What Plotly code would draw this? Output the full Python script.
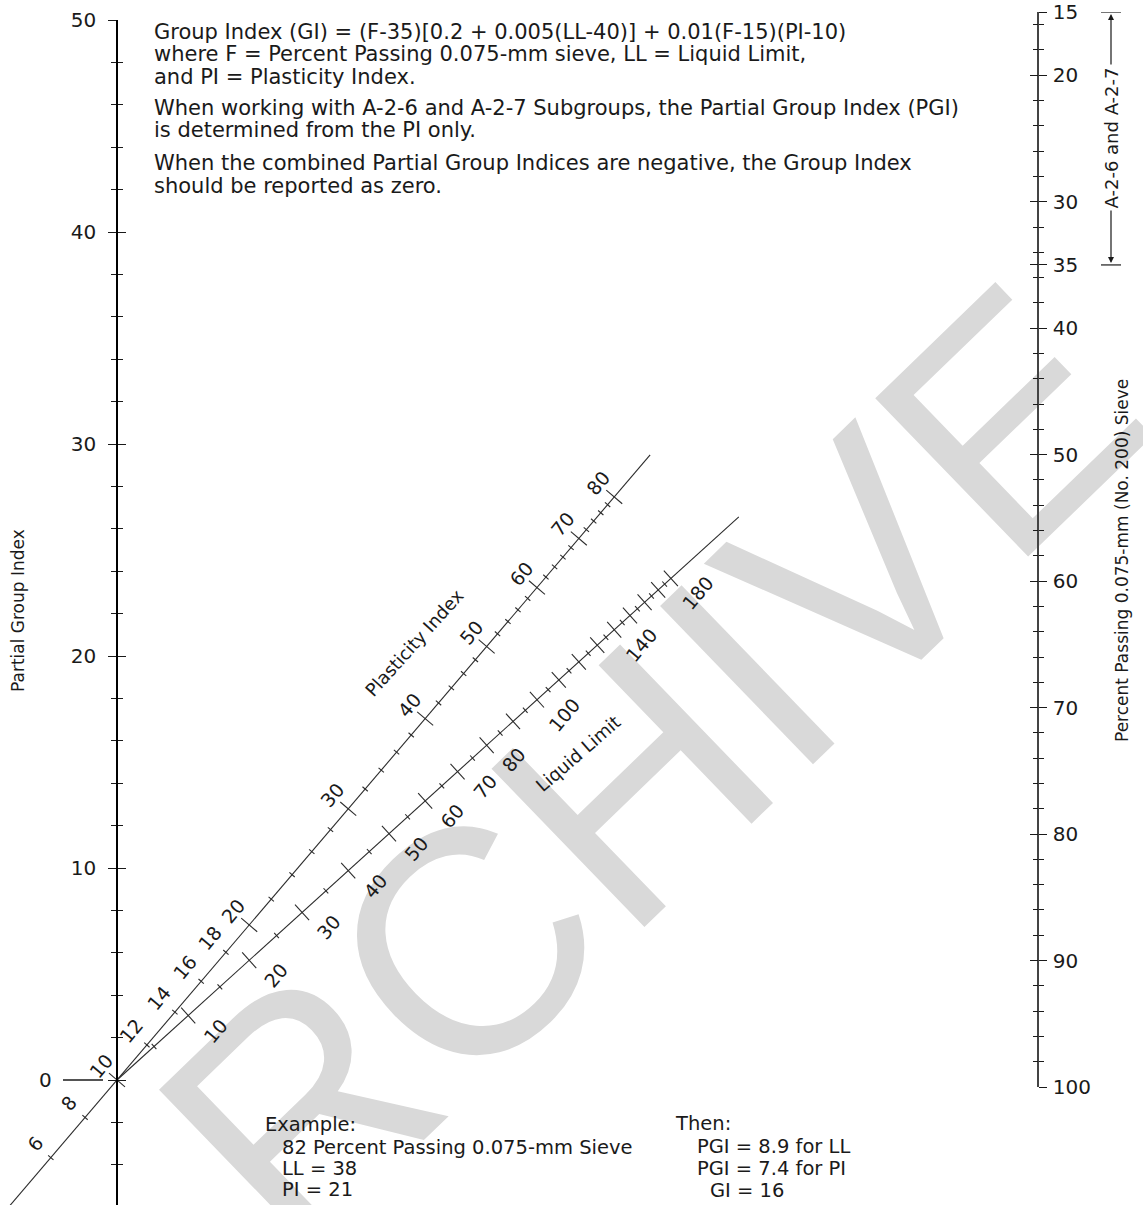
import math
import plotly.graph_objects as go

# ---------------- data ----------------
PGI_TICKS = [0, 10, 20, 30, 40, 50]
PGI_TICK_TEXT = ["", "10", "20", "30", "40", "50"]
PGI_MINOR = [-4, -2, 2, 4, 6, 8, 12, 14, 16, 18, 22, 24, 26, 28, 32, 34, 36, 38, 42, 44, 46, 48]
PGI_ZERO_LABEL = "0"

F_TICKS = [15, 20, 30, 35, 40, 50, 60, 70, 80, 90, 100]
F_MINOR = [16, 18, 22, 24, 26, 28, 32, 34, 36, 38, 42, 44, 46, 48, 52, 54, 56, 58,
           62, 64, 66, 68, 72, 74, 76, 78, 82, 84, 86, 88, 92, 94, 96, 98]
A2_RANGE = [15, 35]
A2_TEXT = "A-2-6 and A-2-7"

PI_MAJOR = [10, 20, 30, 40, 50, 60, 70, 80]
PI_MINOR = [6, 8, 12, 14, 16, 18, 22, 24, 26, 28, 32, 34, 36, 38, 42, 44, 46, 48,
            52, 54, 56, 58, 62, 64, 66, 68, 72, 74, 76, 78]
PI_LABELS = [6, 8, 10, 12, 14, 16, 18, 20, 30, 40, 50, 60, 70, 80]
PI_EXTENT = [3, 92]

LL_MAJOR = [10, 20, 30, 40, 50, 60, 70, 80, 90, 100, 110, 120, 130, 140, 150, 160, 170, 180]
LL_MINOR = [5, 15, 25, 35, 45, 55, 65, 75, 85, 95, 105, 115, 125, 135, 145, 155, 165, 175]
LL_LABELS = [10, 20, 30, 40, 50, 60, 70, 80, 100, 140, 180]
LL_EXTENT = [0, 248]

NOTES = [
    "Group Index (GI) = (F-35)[0.2 + 0.005(LL-40)] + 0.01(F-15)(PI-10)",
    "where F = Percent Passing 0.075-mm sieve, LL = Liquid Limit,",
    "and PI = Plasticity Index.",
    "When working with A-2-6 and A-2-7 Subgroups, the Partial Group Index (PGI)",
    "is determined from the PI only.",
    "When the combined Partial Group Indices are negative, the Group Index",
    "should be reported as zero.",
]
EXAMPLE = ["Example:", "82 Percent Passing 0.075-mm Sieve", "LL = 38", "PI = 21"]
THEN = ["Then:", "PGI = 8.9 for LL", "PGI = 7.4 for PI", "GI = 16"]

LEFT_TITLE = "Partial Group Index"
RIGHT_TITLE = "Percent Passing 0.075-mm (No. 200) Sieve"
PI_TITLE = "Plasticity Index"
LL_TITLE = "Liquid Limit"
WATERMARK = "RCHIVE"

# ---------------- layout geometry (pixels) ----------------
W, H = 1143, 1205
LEFT_PX, RIGHT_PX = 117, 1038
PGI_TOP_PX, PGI_ZERO_PX = 20, 1080
F_TOP_PX, F_BOT_PX = 12, 1087
PI_POLE_PX, LL_POLE_PX = 0, 246   # where the scale lines are aimed on the right side

S_G = (PGI_ZERO_PX - PGI_TOP_PX) / 50.0
PGI_BOTTOM = -(H - PGI_ZERO_PX) / S_G
D_TOP = 1 - PGI_TOP_PX / H
S_F = (F_BOT_PX - F_TOP_PX) / (max(F_TICKS) - min(F_TICKS))
B = S_F / S_G
WIDTH_PX = RIGHT_PX - LEFT_PX
X_RANGE = [-LEFT_PX / WIDTH_PX, (W - LEFT_PX) / WIDTH_PX]
Y_PI_POLE = (PGI_ZERO_PX - PI_POLE_PX) / S_G
Y_LL_POLE = (PGI_ZERO_PX - LL_POLE_PX) / S_G
ANG_PI = math.degrees(math.atan2(Y_PI_POLE * S_G, WIDTH_PX))
ANG_LL = math.degrees(math.atan2(Y_LL_POLE * S_G, WIDTH_PX))


def pos_pi(v):
    # PGI = 0.01 (F-15)(PI-10)
    r = 0.01 * (v - 10) / B
    t = r / (1 + r)
    return t, t * Y_PI_POLE


def pos_ll(v):
    # PGI = (F-35)[0.2 + 0.005(LL-40)] = 0.005 LL (F-35)
    r = 0.005 * v / B
    t = r / (1 + r)
    return t, t * Y_LL_POLE


def pts(fn, vals):
    p = [fn(v) for v in vals]
    return [a for a, _ in p], [b for _, b in p]


FONT = "DejaVu Sans"
INK = "#1a1a1a"
LINE = "#2b2b2b"

fig = go.Figure()

# scale lines
for fn, ext in ((pos_pi, PI_EXTENT), (pos_ll, LL_EXTENT)):
    xs, ys = pts(fn, ext)
    fig.add_trace(go.Scatter(x=xs, y=ys, mode="lines", line=dict(color=LINE, width=1.1),
                             hoverinfo="skip", showlegend=False))

# tick marks on scale lines
for fn, vals, size, ang in ((pos_pi, PI_MAJOR, 15, ANG_PI), (pos_pi, PI_MINOR, 5, ANG_PI),
                            (pos_ll, LL_MAJOR, 15, ANG_LL), (pos_ll, LL_MINOR, 5, ANG_LL)):
    xs, ys = pts(fn, vals)
    fig.add_trace(go.Scatter(x=xs, y=ys, mode="markers",
                             marker=dict(symbol="line-ns", size=size, angle=-ang,
                                         line=dict(color=LINE, width=1.1)),
                             hoverinfo="skip", showlegend=False))

# dummy traces so the extra axes are drawn
for ya in ("y2", "y3", "y4"):
    fig.add_trace(go.Scatter(x=[None], y=[None], yaxis=ya, hoverinfo="skip", showlegend=False))

ann = []
LBL = dict(family=FONT, size=19, color=INK)
for v in PI_LABELS:
    x, y = pos_pi(v)
    ann.append(dict(x=x, y=y, xref="x", yref="y", text=str(v), showarrow=False,
                    xshift=-16, yshift=14, textangle=-50, font=LBL))
for v in LL_LABELS:
    x, y = pos_ll(v)
    ann.append(dict(x=x, y=y, xref="x", yref="y", text=str(v), showarrow=False,
                    xshift=27, yshift=-15, textangle=-50, font=LBL))
x, y = pos_pi(45)
ann.append(dict(x=x, y=y, xref="x", yref="y", text=PI_TITLE, showarrow=False,
                xshift=-43, yshift=38, textangle=-48, font=dict(family=FONT, size=18, color=INK)))
x, y = pos_ll(98)
ann.append(dict(x=x, y=y, xref="x", yref="y", text=LL_TITLE, showarrow=False,
                xshift=46, yshift=-50, textangle=-41, font=dict(family=FONT, size=18, color=INK)))

# zero label of the PGI scale
ann.append(dict(x=0, y=0, xref="x", yref="y", text=PGI_ZERO_LABEL, showarrow=False,
                xshift=-72, font=dict(family=FONT, size=20, color=INK)))

# notes
NOTE_Y = [32, 54, 77, 108, 130, 163, 186]
for txt, yy in zip(NOTES, NOTE_Y):
    ann.append(dict(x=152 / W, y=1 - yy / H, xref="paper", yref="paper", text=txt,
                    showarrow=False, xanchor="left", yanchor="middle",
                    font=dict(family=FONT, size=21, color=INK)))

# example
EX_POS = [(263, 1124), (280, 1147), (280, 1168), (280, 1189)]
TH_POS = [(673, 1123), (695, 1146), (695, 1168), (708, 1190)]
for lines, poss in ((EXAMPLE, EX_POS), (THEN, TH_POS)):
    for txt, (xx, yy) in zip(lines, poss):
        ann.append(dict(x=xx / W, y=1 - yy / H, xref="paper", yref="paper", text=txt,
                        showarrow=False, xanchor="left", yanchor="middle",
                        font=dict(family=FONT, size=19.5, color=INK)))

# axis titles
ann.append(dict(x=18 / W, y=1 - 611 / H, xref="paper", yref="paper", text=LEFT_TITLE,
                xanchor="center", yanchor="middle",
                showarrow=False, textangle=-90, font=dict(family=FONT, size=17, color=INK)))
ann.append(dict(x=1122 / W, y=1 - 561 / H, xref="paper", yref="paper", text=RIGHT_TITLE,
                xanchor="center", yanchor="middle",
                showarrow=False, textangle=-90, font=dict(family=FONT, size=17, color=INK)))

# A-2-6 / A-2-7 bracket
BR_X = 1111 / W
ann.append(dict(x=BR_X, y=sum(A2_RANGE) / 2, xref="paper", yref="y2", text=A2_TEXT,
                xanchor="center", yanchor="middle",
                showarrow=False, textangle=-90, font=dict(family=FONT, size=18, color=INK)))
ann.append(dict(x=BR_X, y=A2_RANGE[0], xref="paper", yref="y2", text="", showarrow=True,
                ax=0, ay=54, arrowhead=2, arrowsize=1, arrowwidth=1.2, arrowcolor=INK, standoff=2))
ann.append(dict(x=BR_X, y=A2_RANGE[1], xref="paper", yref="y2", text="", showarrow=True,
                ax=0, ay=-56, arrowhead=2, arrowsize=1, arrowwidth=1.2, arrowcolor=INK, standoff=2))

shapes = []
for v in A2_RANGE:
    shapes.append(dict(type="line", xref="paper", xsizemode="pixel", xanchor=BR_X, x0=-10, x1=10,
                       yref="y2", y0=v, y1=v, line=dict(color=INK, width=1.2)))
# zero dash left of the PGI axis
shapes.append(dict(type="line", xref="x", xsizemode="pixel", xanchor=0, x0=-54, x1=-14,
                   yref="y", y0=0, y1=0, line=dict(color=INK, width=1.4)))
# watermark
WM_X, WM_Y = 630, 745
shapes.append(dict(type="rect", xref="paper", yref="paper",
                   x0=(WM_X - 5) / W, x1=(WM_X + 5) / W, y0=1 - (WM_Y + 5) / H, y1=1 - (WM_Y - 5) / H,
                   line=dict(width=0), fillcolor="rgba(0,0,0,0)", layer="below",
                   label=dict(text=WATERMARK, textangle=-44, textposition="middle center",
                              font=dict(family="Liberation Sans", size=320, color="#d9d9d9"))))

tickfont = dict(family=FONT, size=20, color=INK)
common_left = dict(domain=[0, D_TOP], range=[PGI_BOTTOM, 50], anchor="free", position=LEFT_PX / W,
                   side="left", tickmode="array", tickvals=PGI_TICKS, ticktext=PGI_TICK_TEXT,
                   ticklen=8, tickwidth=1.2, tickcolor=INK, showgrid=False, zeroline=False,
                   fixedrange=True, automargin=False)
common_right = dict(domain=[1 - F_BOT_PX / H, 1 - F_TOP_PX / H], range=[max(F_TICKS), min(F_TICKS)],
                    anchor="free", position=RIGHT_PX / W, side="right", tickmode="array",
                    tickvals=F_TICKS, ticklen=8, tickwidth=1.2, tickcolor=INK,
                    showgrid=False, zeroline=False, fixedrange=True, automargin=False)

fig.update_layout(
    width=W, height=H, autosize=False,
    margin=dict(l=0, r=0, t=0, b=0, pad=0, autoexpand=False),
    paper_bgcolor="white", plot_bgcolor="rgba(0,0,0,0)",
    showlegend=False,
    xaxis=dict(domain=[0, 1], range=X_RANGE, visible=False, anchor="y", fixedrange=True,
               automargin=False),
    yaxis=dict(**common_left, ticks="outside", showline=True, linecolor="black", linewidth=1.5,
               tickfont=tickfont, ticklabelstandoff=8,
               minor=dict(tickmode="array", tickvals=PGI_MINOR, ticks="outside", ticklen=5,
                          tickwidth=1, tickcolor=INK)),
    yaxis3=dict(**common_left, overlaying="y", ticks="inside", showline=False, showticklabels=False,
                minor=dict(tickmode="array", tickvals=PGI_MINOR, ticks="inside", ticklen=5,
                           tickwidth=1, tickcolor=INK)),
    yaxis2=dict(**common_right, ticks="outside", showline=True, linecolor="#444444", linewidth=1.5,
                tickfont=tickfont, ticklabelstandoff=2,
                minor=dict(tickmode="array", tickvals=F_MINOR, ticks="outside", ticklen=5,
                           tickwidth=1, tickcolor=INK)),
    yaxis4=dict(**common_right, overlaying="y2", ticks="inside", showline=False, showticklabels=False,
                minor=dict(tickmode="array", tickvals=F_MINOR, ticks="inside", ticklen=5,
                           tickwidth=1, tickcolor=INK)),
    annotations=ann,
    shapes=shapes,
)

fig.write_html("out.html", config={"displayModeBar": False},
               post_script="document.body.style.margin='0';")
